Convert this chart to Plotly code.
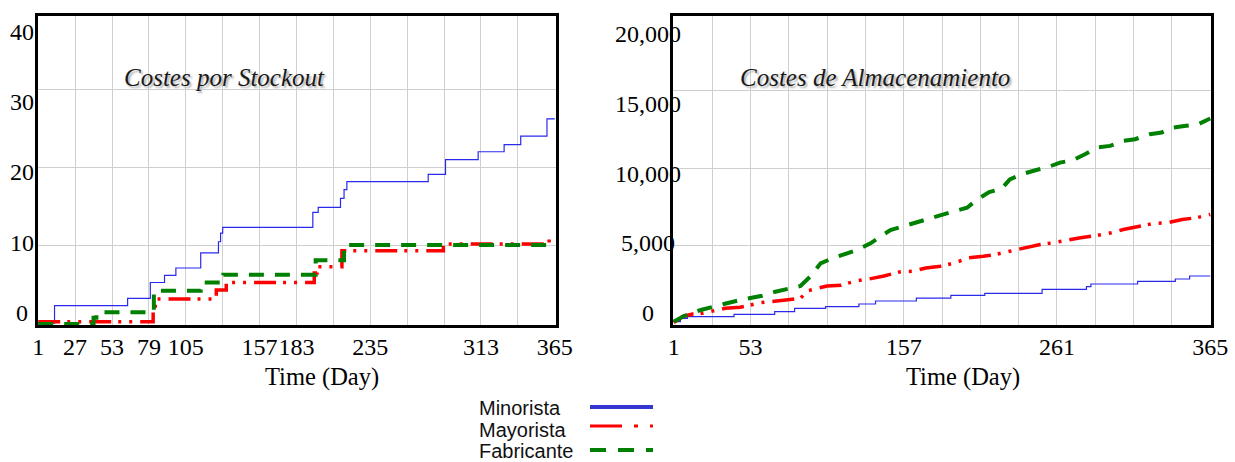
import plotly.graph_objects as go

W, H = 1235, 462

# ---------------- data ----------------
# Costes por Stockout (stepped cumulative)
stock_min_days = [1, 12.5, 64, 80, 90, 98, 115.5, 128, 129.5, 131, 194.5, 198.3, 214, 216.5, 218.5, 275.8, 288, 311, 329.3, 341, 359.5, 365]
stock_min_vals = [0.1, 2.34, 3.28, 5.3, 6.2, 7.15, 9.07, 10.5, 11.6, 12.35, 14.26, 14.9, 16.05, 17.15, 18.17, 19.1, 21.0, 22.0, 22.9, 24.0, 26.2, 26.2]

stock_may_days = [1, 82, 83.5, 126.5, 133.5, 195.5, 197.5, 215, 286.5, 361, 365]
stock_may_vals = [0.3, 1.8, 3.2, 4.34, 5.3, 6.5, 7.3, 9.36, 10.2, 10.9, 10.9]

stock_fab_days = [1, 40, 42, 82.5, 84.5, 115.5, 131.5, 196.5, 216.5, 365]
stock_fab_vals = [0.0, 0.8, 1.5, 3.5, 4.25, 5.3, 6.3, 8.15, 10.1, 10.1]

# Costes de Almacenamiento
alm_min_days = [1, 5.5, 10.3, 41.9, 69.5, 83, 104, 126.6, 137.9, 165.6, 189, 212, 250.9, 281, 284, 315.7, 341.3, 351, 365]
alm_min_vals = [90, 310, 414, 568, 737, 956, 1060, 1234, 1427, 1615, 1787, 1925, 2183, 2351, 2526, 2700, 2849, 3043, 3043]

alm_may_days = [1, 6.9, 13.7, 20.5, 28.3, 36, 46, 60, 77, 87, 92, 105, 114.6, 124.4, 133.4, 143.6, 155, 162.7, 172, 182, 191.7, 201, 211, 219, 229, 240, 249.6, 258, 267.5, 277, 288, 298, 306, 317, 326.7, 336, 346, 355.6, 365]
alm_may_vals = [30, 413, 588, 633, 801, 956, 1020, 1318, 1492, 1602, 2093, 2397, 2450, 2720, 2849, 3043, 3320, 3348, 3564, 3672, 3888, 4212, 4320, 4428, 4644, 4903, 5076, 5184, 5357, 5508, 5659, 5832, 6048, 6264, 6437, 6480, 6696, 6804, 7020]

alm_fab_days = [1, 8, 19.3, 27.2, 35, 44, 53.2, 61, 70, 78, 87, 94, 100.6, 108.6, 118.7, 125.5, 134.5, 141, 148, 157, 168, 176.5, 185, 191.8, 200, 207, 215, 223.5, 229, 237, 247, 254, 263, 271.5, 280, 288, 297, 306, 314, 324, 332, 340, 348.6, 357, 365]
alm_fab_vals = [100, 459, 846, 1060, 1234, 1447, 1602, 1770, 2028, 2203, 2397, 3043, 3863, 4186, 4509, 4722, 5155, 5543, 6014, 6264, 6588, 6804, 7063, 7236, 7452, 7992, 8467, 8683, 9288, 9612, 9893, 10044, 10368, 10519, 10908, 11340, 11448, 11772, 11880, 12204, 12312, 12636, 12744, 12852, 13219]

# ticks
x_tickvals = [1, 27, 53, 79, 105, 131, 157, 183, 209, 235, 261, 287, 313, 339, 365]
left_xticktext = ['1', '27', '53', '79', '105', '', '157', '183', '', '235', '', '', '313', '', '365']
right_xticktext = ['1', '', '53', '', '', '', '157', '', '', '', '261', '', '', '', '365']
left_grid_y = [10, 20, 30]
right_grid_y = [5000, 10000, 15000]
left_ylabel_vals = [0, 10, 20, 30, 40]
left_ylabel_text = ['0', '10', '20', '30', '40']
right_ylabel_vals = [0, 5000, 10000, 15000, 20000]
right_ylabel_text = ['0', '5,000', '10,000', '15,000', '20,000']

series_names = ['Minorista', 'Mayorista', 'Fabricante']
titles = ['Costes por Stockout', 'Costes de Almacenamiento']
x_title = 'Time (Day)'

# ---------------- style ----------------
SERIF = 'Liberation Serif, Times New Roman, serif'
SANS = 'Liberation Sans, Arial, sans-serif'
BLUE = '#2a2aee'
BLUE_LEG = '#3535d0'
RED = '#ff0000'
GREEN = '#008000'
GRID = '#cfcfcf'
RED_DASH = '22px,7px,3px,8px,3px,8px'
GREEN_DASH = '15px,11px'

fig = go.Figure()

# left panel
fig.add_trace(go.Scatter(x=stock_min_days, y=stock_min_vals, mode='lines', line=dict(color=BLUE, width=1.2, shape='hv'), xaxis='x', yaxis='y', name=series_names[0]))
fig.add_trace(go.Scatter(x=stock_may_days, y=stock_may_vals, mode='lines', line=dict(color=RED, width=3.5, shape='hv', dash=RED_DASH), xaxis='x', yaxis='y', name=series_names[1]))
fig.add_trace(go.Scatter(x=stock_fab_days, y=stock_fab_vals, mode='lines', line=dict(color=GREEN, width=4, shape='hv', dash=GREEN_DASH), xaxis='x', yaxis='y', name=series_names[2]))

# right panel
fig.add_trace(go.Scatter(x=alm_min_days, y=alm_min_vals, mode='lines', line=dict(color=BLUE, width=1.2, shape='hv'), xaxis='x2', yaxis='y2', name=series_names[0]))
fig.add_trace(go.Scatter(x=alm_may_days, y=alm_may_vals, mode='lines', line=dict(color=RED, width=3.5, dash=RED_DASH), xaxis='x2', yaxis='y2', name=series_names[1]))
fig.add_trace(go.Scatter(x=alm_fab_days, y=alm_fab_vals, mode='lines', line=dict(color=GREEN, width=4, dash=GREEN_DASH), xaxis='x2', yaxis='y2', name=series_names[2]))

# invisible traces to anchor label axes
fig.add_trace(go.Scatter(x=[None], y=[None], xaxis='x', yaxis='y3', hoverinfo='skip'))
fig.add_trace(go.Scatter(x=[None], y=[None], xaxis='x2', yaxis='y4', hoverinfo='skip'))

ydom = [1 - 325 / H, 1 - 15.5 / H]


def xax(dom, ticktext, anchor):
    return dict(domain=dom, range=[0.5, 365.5], tickvals=x_tickvals, ticktext=ticktext,
                showgrid=True, gridcolor=GRID, gridwidth=1, showline=True, linecolor='black',
                linewidth=2.5, mirror=True, ticks='', zeroline=False, anchor=anchor,
                tickangle=0, automargin=False,
                tickfont=dict(family=SERIF, size=24, color='black'), ticklabelstandoff=-2)


def yax(rng, grid, anchor):
    return dict(domain=ydom, range=rng, tickvals=grid, showticklabels=False, showgrid=True,
                gridcolor=GRID, gridwidth=1, showline=True, linecolor='black', linewidth=2.5,
                mirror=True, ticks='', zeroline=False, anchor=anchor, automargin=False)


fig.update_layout(
    width=W, height=H, margin=dict(l=0, r=0, t=0, b=0, autoexpand=False),
    paper_bgcolor='white', plot_bgcolor='white', showlegend=False,
    xaxis=xax([37.5 / W, 555.5 / W], left_xticktext, 'y'),
    yaxis=yax([-0.13, 39.4], left_grid_y, 'x'),
    xaxis2=xax([673 / W, 1211 / W], right_xticktext, 'y2'),
    yaxis2=yax([-123, 19871], right_grid_y, 'x2'),
    yaxis3=dict(overlaying='y', anchor='x', range=[-1.706, 42.30], visible=False, automargin=False),
    yaxis4=dict(overlaying='y2', anchor='x2', range=[-860, 21326], visible=False, automargin=False),
)

ann = []
# y labels (Vensim-style spacing, via label axes)
for v, t in zip(left_ylabel_vals, left_ylabel_text):
    ann.append(dict(x=22.5 / W, xref='paper', y=v, yref='y3', text=t, showarrow=False,
                    xanchor='center', yanchor='middle', font=dict(family=SERIF, size=24, color='black')))
for v, t in zip(right_ylabel_vals, right_ylabel_text):
    ann.append(dict(x=648 / W, xref='paper', y=v, yref='y4', text=t, showarrow=False,
                    xanchor='center', yanchor='middle', font=dict(family=SERIF, size=24, color='black')))
# axis titles
for xc in (322, 963):
    ann.append(dict(x=xc / W, xref='paper', y=1 - 377 / H, yref='paper', text=x_title, showarrow=False,
                    xanchor='center', yanchor='middle', font=dict(family=SERIF, size=24.5, color='black')))
# chart titles
for xc, t in zip((224.5, 874.5), titles):
    ann.append(dict(x=xc / W, xref='paper', y=1 - 78 / H, yref='paper', text=t, showarrow=False,
                    xanchor='center', yanchor='middle',
                    font=dict(family=SERIF, size=25, color='#1a1a1a', style='italic',
                              shadow='2px 2px 2px #b0b0b0')))
# legend texts
leg_y = [408, 429.5, 450.5]
for yy, t in zip(leg_y, series_names):
    ann.append(dict(x=477 / W, xref='paper', y=1 - yy / H, yref='paper', text=t, showarrow=False,
                    xanchor='left', yanchor='middle', font=dict(family=SANS, size=20, color='#111111')))
fig.update_layout(annotations=ann)

# legend line samples
leg_line_y = [407, 426, 450]
leg_styles = [dict(color=BLUE_LEG, width=4), dict(color=RED, width=3, dash='32px,12px,4px,12px,4px,12px'),
              dict(color=GREEN, width=4, dash='16px,12px')]
for yy, st in zip(leg_line_y, leg_styles):
    fig.add_shape(type='line', xref='paper', yref='paper', x0=590 / W, x1=653 / W,
                  y0=1 - yy / H, y1=1 - yy / H, line=st)

fig.write_html('out.html', config={'displayModeBar': False},
               post_script="document.body.style.margin='0';document.body.style.overflow='hidden';")
